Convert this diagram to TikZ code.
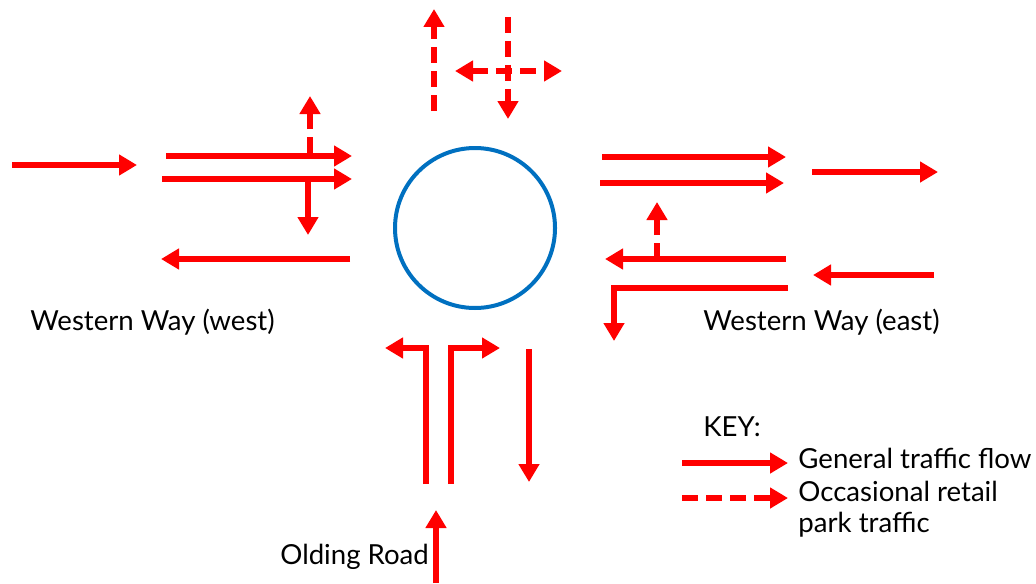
\documentclass[tikz,border=0pt]{standalone}
\usepackage{fontspec}
\setmainfont{Lato}
\usetikzlibrary{arrows.meta}

\tikzset{
  flow/.style={draw=red,line width=3pt,-{Triangle[length=9pt,width=10pt]}},
  occ/.style={flow,dash pattern=on 8pt off 4pt},
  lbl/.style={anchor=west,inner sep=0pt,font=\fontsize{13.8}{15.5}\selectfont}
}

\begin{document}
\begin{tikzpicture}[x=0.5pt,y=-0.5pt]
\useasboundingbox (0,0) rectangle (1036,583);
% roundabout
\node [draw={rgb,255:red,0;green,112;blue,192},line width=2pt,circle,
    minimum size=80pt] (rbt) at (475,228) {};

% western way (west)
\draw [flow] (12,165) -- (137,165);
\draw [flow] (166,156) -- (352,156);
\draw [flow] (162,179) -- (352,179);
\draw [occ] (310,153) -- (310,96);
\draw [flow] (308,179) -- (308,235);
\draw [flow] (350,259) -- (161,259);

% retail park (north)
\draw [occ] (434,111) -- (434,9);
\draw [occ] (508,17) -- (508,119);
\draw [occ,{Triangle[length=9pt,width=10pt]}-{Triangle[length=9pt,width=10pt]}]
    (455,71) -- (562,71);

% western way (east)
\draw [flow] (602,157) -- (786,157);
\draw [flow] (600,183) -- (784,183);
\draw [flow] (812,172) -- (938,172);
\draw [flow] (786,259) -- (605,259);
\draw [occ] (657,259) -- (657,202);
\draw [flow] (934,275) -- (813,275);
\draw [flow] (788,288) -| (614,341);

% olding road
\draw [flow] (426,484) |- (385,348);
\draw [flow] (451,484) |- (500,348);
\draw [flow] (529,349) -- (529,482);
\draw [flow] (436,583) -- (436,510);

% labels
\path
    (30,322) node [lbl] (west) {Western Way (west)}
    (703,322) node [lbl] (east) {Western Way (east)}
    (280,557) node [lbl] (olding) {Olding Road}
    (703,427) node [lbl] (key) {KEY:};

% key
\draw [flow] (682,463) -- (788,463);
\node [lbl] (gen) at (798,458) {General traffic flow};
\draw [occ] (682,498) -- (788,498);
\node [lbl,anchor=north west,align=left] (retail) at (798,481)
    {Occasional retail\\park traffic};
\end{tikzpicture}
\end{document}
